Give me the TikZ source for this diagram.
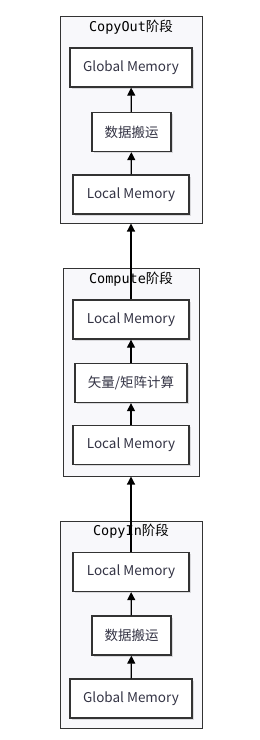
\documentclass[tikz,border=0pt]{standalone}
\usepackage{fontspec}
\newfontfamily\cjk{Noto Sans CJK SC}
\setmonofont{DejaVu Sans Mono}
\usetikzlibrary{arrows.meta,shadows}
\definecolor{clusterfill}{HTML}{F8F8FB}
\definecolor{edgegray}{HTML}{333333}
\definecolor{labelink}{HTML}{333344}
\newcommand{\stagetitle}[1]{{\ttfamily #1}{\cjk 阶段}}

\begin{document}
\begin{tikzpicture}[x=1pt, y=-1pt, semithick, >={Triangle[length=8pt,width=8pt]}]
        \tikzstyle{stage}=[rectangle, draw=edgegray, fill=clusterfill, line width=1pt, inner sep=0pt]
        \tikzstyle{title}=[font=\fontsize{13.5}{15}\selectfont, text=black, inner sep=0pt]
        \tikzstyle{box}=[rectangle, draw=edgegray, fill=white, line width=1.3pt, minimum height=39pt, inner sep=0pt,
                         font=\cjk\fontsize{13.5}{15}\selectfont, text=labelink,
                         drop shadow={opacity=0.25, shadow xshift=1.5pt, shadow yshift=-1.5pt}]
        \tikzstyle{flow}=[->, line width=1.2pt, draw=black]
        \useasboundingbox (0,0) rectangle (260,740);
        % stages
        \node[stage, minimum width=142pt, minimum height=207pt] (copyout) at (131,119.5) {};
        \node[stage, minimum width=136pt, minimum height=208pt] (compute) at (131,372) {};
        \node[stage, minimum width=142pt, minimum height=207pt] (copyin)  at (131,624.5) {};
        \node[title] (copyoutT) at (131,27.5)  {\stagetitle{CopyOut}};
        \node[title] (computeT) at (131,279.5) {\stagetitle{Compute}};
        \node[title] (copyinT)  at (131,531.5) {\stagetitle{CopyIn}};
        % CopyOut
        \node[box, minimum width=122pt] (outGlobal) at (131,67.5)  {Global Memory};
        \node[box, minimum width=79pt]  (outMove)   at (131.5,132) {数据搬运};
        \node[box, minimum width=116pt] (outLocal)  at (131,194.5) {Local Memory};
        % Compute
        \node[box, minimum width=116pt] (cmpLocalB) at (131,319.5) {Local Memory};
        \node[box, minimum width=112pt] (cmpCalc)   at (131,383)   {矢量/矩阵计算};
        \node[box, minimum width=116pt] (cmpLocalA) at (131,445)   {Local Memory};
        % CopyIn
        \node[box, minimum width=116pt] (inLocal)   at (131,572)   {Local Memory};
        \node[box, minimum width=79pt]  (inMove)    at (131.5,635.5) {数据搬运};
        \node[box, minimum width=122pt] (inGlobal)  at (131,698.5) {Global Memory};
        % edges
        \draw[flow] (inGlobal) -- (inMove);
        \draw[flow] (inMove) -- (inLocal);
        \draw[flow] (inLocal.north) -- (compute.south);
        \draw[flow] (cmpLocalA) -- (cmpCalc);
        \draw[flow] (cmpCalc) -- (cmpLocalB);
        \draw[flow] (cmpLocalB.north) -- (copyout.south);
        \draw[flow] (outLocal) -- (outMove);
        \draw[flow] (outMove) -- (outGlobal);
      \end{tikzpicture}
\end{document}
